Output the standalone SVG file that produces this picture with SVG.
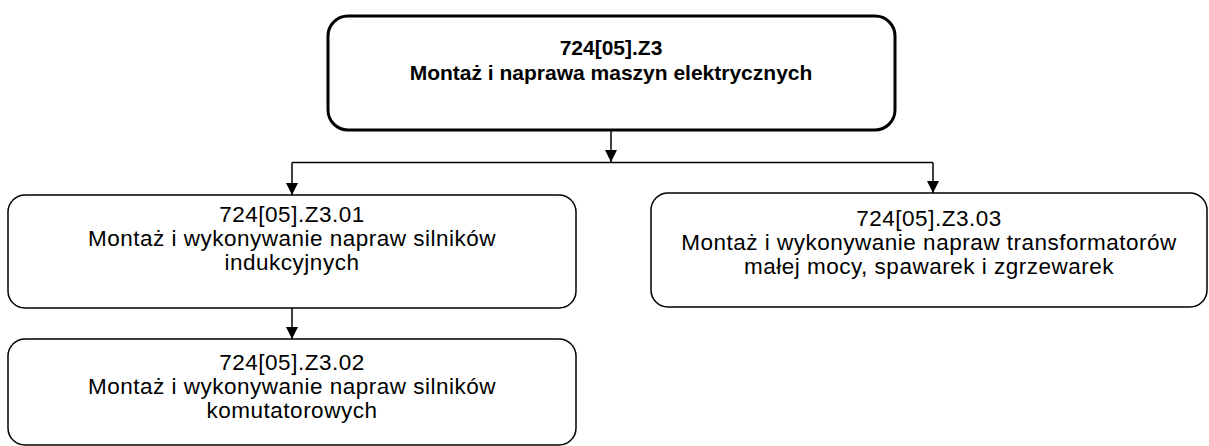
<svg xmlns="http://www.w3.org/2000/svg" width="1209" height="446" viewBox="0 0 1209 446">
  <style>
    .box { fill: #ffffff; stroke: #000000; stroke-width: 1.5; }
    .box-main { fill: #ffffff; stroke: #000000; stroke-width: 3; }
    .label { font-family: "Liberation Sans", Arial, sans-serif; font-size: 22.5px; letter-spacing: 0.5px; fill: #000000; text-anchor: middle; }
    .label-main { font-family: "Liberation Sans", Arial, sans-serif; font-size: 21px; font-weight: bold; fill: #000000; text-anchor: middle; }
    .link { fill: none; stroke: #000000; stroke-width: 1.5; }
  </style>
  <defs>
    <marker id="arrow" viewBox="0 0 12 12" refX="12" refY="6" markerWidth="12" markerHeight="12" markerUnits="userSpaceOnUse" orient="auto">
      <path d="M0,0 L12,6 L0,12 Z" fill="#000000"/>
    </marker>
  </defs>

  <rect width="1209" height="446" fill="#ffffff"/>

  <!-- connectors -->
  <g id="connectors">
    <line class="link" x1="611" y1="130" x2="611" y2="162" marker-end="url(#arrow)"/>
    <path class="link" d="M292,162.5 H933"/>
    <line class="link" x1="292" y1="162.5" x2="292" y2="195" marker-end="url(#arrow)"/>
    <line class="link" x1="933" y1="162.5" x2="933" y2="193" marker-end="url(#arrow)"/>
    <line class="link" x1="292" y1="308" x2="292" y2="339" marker-end="url(#arrow)"/>
  </g>

  <!-- root qualification -->
  <g id="node-z3">
    <rect class="box-main" x="328" y="16" width="567" height="114" rx="20" ry="20"/>
    <text class="label-main" x="611" y="55">724[05].Z3</text>
    <text class="label-main" x="611" y="80">Montaż i naprawa maszyn elektrycznych</text>
  </g>

  <g id="node-z3-01">
    <rect class="box" x="8" y="195" width="568" height="113" rx="17" ry="17"/>
    <text class="label" x="292" y="222">724[05].Z3.01</text>
    <text class="label" x="292" y="246">Montaż i wykonywanie napraw silników</text>
    <text class="label" x="292" y="270">indukcyjnych</text>
  </g>

  <g id="node-z3-02">
    <rect class="box" x="8" y="339" width="568" height="106" rx="17" ry="17"/>
    <text class="label" x="292" y="370">724[05].Z3.02</text>
    <text class="label" x="292" y="394">Montaż i wykonywanie napraw silników</text>
    <text class="label" x="292" y="418">komutatorowych</text>
  </g>

  <g id="node-z3-03">
    <rect class="box" x="651" y="193" width="556" height="114" rx="17" ry="17"/>
    <text class="label" x="929" y="226">724[05].Z3.03</text>
    <text class="label" x="929" y="250">Montaż i wykonywanie napraw transformatorów</text>
    <text class="label" x="929" y="274">małej mocy, spawarek i zgrzewarek</text>
  </g>
</svg>
